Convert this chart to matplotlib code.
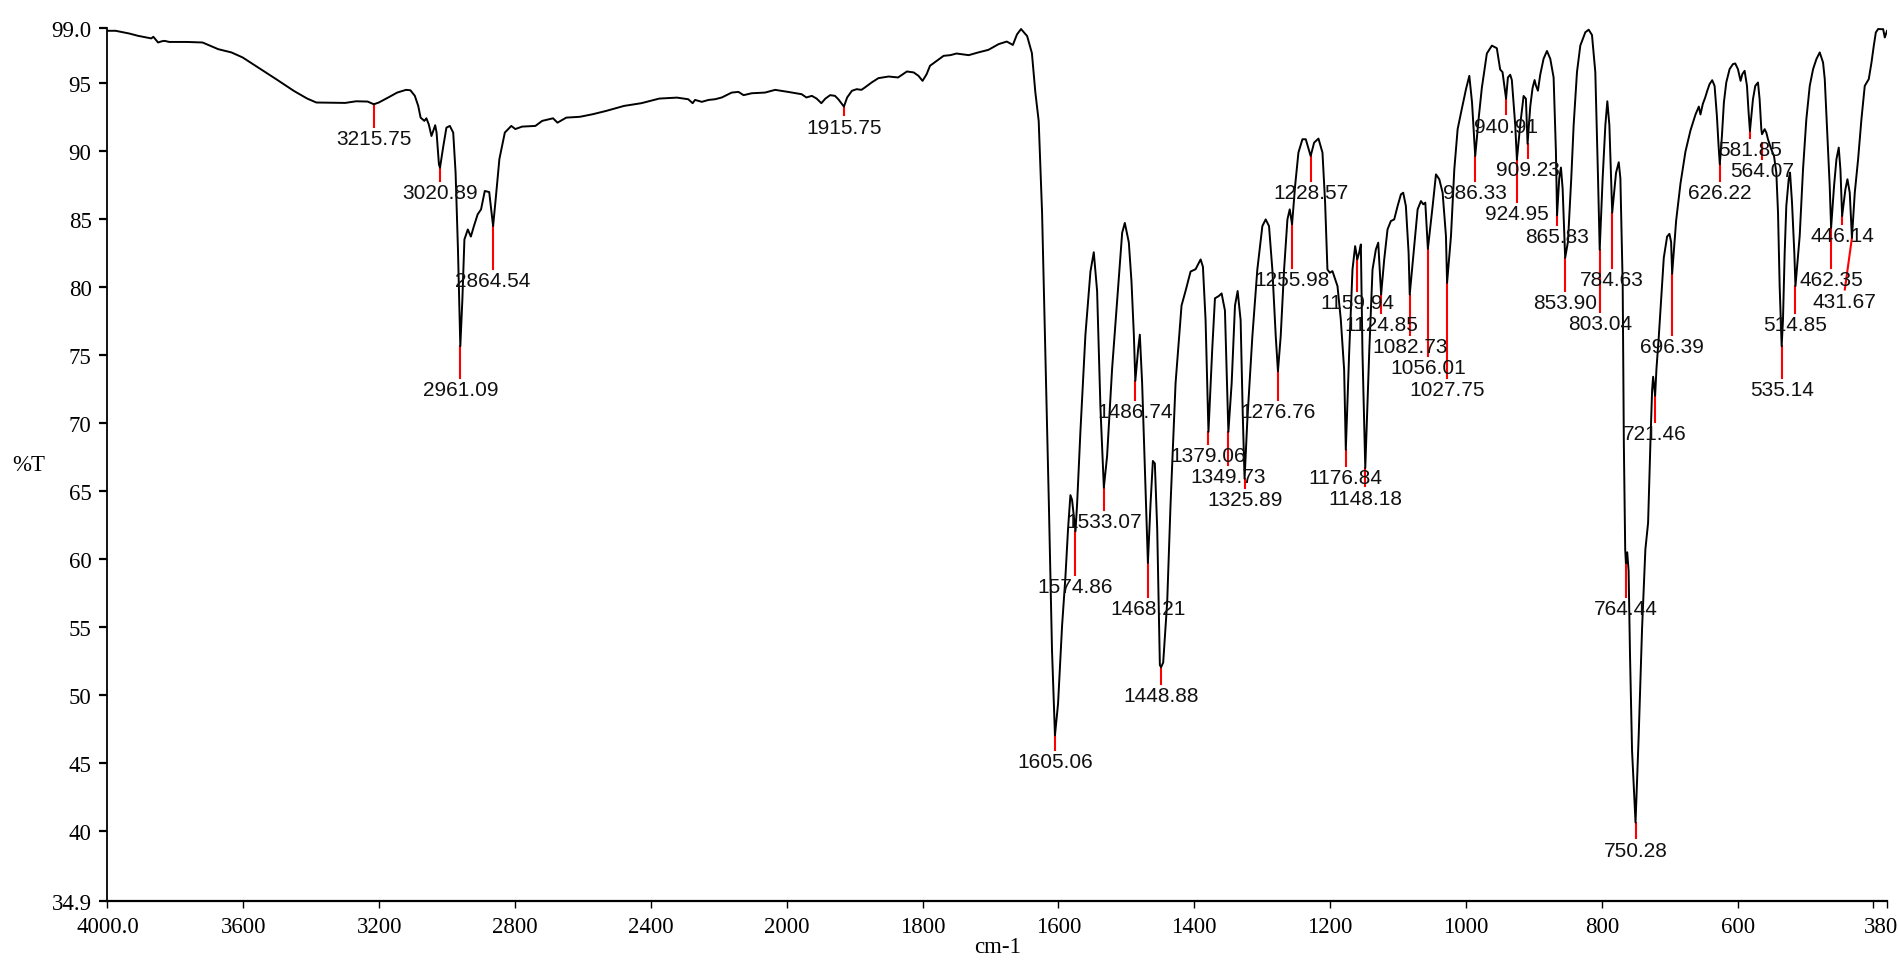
import numpy as np
import matplotlib
matplotlib.use("Agg")
import matplotlib.pyplot as plt
from matplotlib.transforms import ScaledTranslation

# --- spectrum (wavenumber cm-1, %T) ---
wavenumber = [
    4000, 3976, 3936, 3910, 3871, 3865, 3851, 3840, 3832, 3818, 3766, 3720,
    3674, 3635, 3602, 3556, 3503, 3451, 3412, 3385, 3300, 3268, 3234, 3215.75,
    3201, 3174, 3147, 3121, 3108, 3095, 3085, 3078, 3067, 3061, 3054, 3046,
    3035, 3031, 3024, 3020.89, 3011, 3002, 2992, 2982, 2975, 2968, 2961.09,
    2955, 2949, 2939, 2930, 2921, 2910, 2900, 2889, 2876, 2864.54, 2857, 2846,
    2830, 2811, 2799, 2779, 2740, 2720, 2688, 2675, 2649, 2609, 2571, 2532,
    2479, 2428, 2375, 2323, 2290, 2277, 2270, 2250, 2230, 2211, 2191, 2162,
    2142, 2127, 2103, 2064, 2034, 1998, 1978, 1971, 1963, 1956, 1949, 1943,
    1936, 1929, 1924, 1915.75, 1911, 1904, 1897, 1890, 1885, 1875, 1865, 1850,
    1836, 1831, 1823, 1813, 1806, 1800, 1794, 1789, 1779, 1769, 1759, 1750,
    1732, 1718, 1703, 1688, 1676, 1667, 1661, 1655, 1646, 1639, 1634, 1629,
    1624, 1619, 1614, 1609.4, 1605.06, 1600.5, 1594.6, 1589.7, 1585.8, 1582.3,
    1579.9, 1574.86, 1572.5, 1567.6, 1560.2, 1552.8, 1547.9, 1543, 1538.1,
    1533.07, 1528.3, 1520.9, 1513.5, 1506.1, 1502.2, 1496.3, 1492.4, 1488.9,
    1486.74, 1482.6, 1480.1, 1476.7, 1473.2, 1468.21, 1464.4, 1460.9, 1458,
    1454.5, 1450.6, 1448.88, 1445.7, 1439.8, 1434.9, 1427.5, 1418.7, 1412.8,
    1405.4, 1398, 1390.6, 1387.2, 1383.3, 1379.06, 1373.5, 1369.5, 1363.6,
    1359.7, 1354.8, 1349.73, 1344.9, 1340.0, 1336.1, 1331.7, 1328.5, 1325.89,
    1321.8, 1314.4, 1307.1, 1299.7, 1294.8, 1289.9, 1285, 1280, 1276.76,
    1272.7, 1267.7, 1262.8, 1259.4, 1255.98, 1251.5, 1246.6, 1240.7, 1235.8,
    1228.57, 1223.5, 1217.1, 1211.2, 1207.3, 1203.9, 1200.4, 1196.5, 1194,
    1189.1, 1184.2, 1179.3, 1176.84, 1171.9, 1167, 1163.1, 1159.94, 1157.2,
    1154.7, 1152.3, 1148.18, 1142.4, 1137.5, 1132.6, 1129.1, 1124.85, 1120.3,
    1115.4, 1110.5, 1105.6, 1100.6, 1095.7, 1092.3, 1088.4, 1084.4, 1082.73,
    1076.1, 1071.1, 1066.2, 1062.8, 1059.8, 1056.01, 1049.0, 1044.1, 1039.2,
    1034.3, 1029.4, 1027.75, 1022.0, 1017.1, 1012.2, 1007.2, 999.9, 995.0,
    991.0, 986.33, 981, 976.6, 969.2, 961.8, 954.5, 949.6, 946.1, 940.91,
    938.2, 934.8, 932.4, 927.4, 924.95, 920.1, 915.1, 911.7, 909.23, 905.3,
    901.9, 898.9, 897.0, 894.0, 890.6, 885.7, 880.7, 875.8, 870.9, 867.5,
    865.83, 862.6, 860.1, 857.6, 853.90, 849.8, 844.9, 841.4, 836.5, 831.6,
    824.2, 819.3, 814.4, 809.5, 805.5, 803.04, 798.7, 794.7, 791.8, 788.8,
    784.63, 779.0, 775.0, 772.6, 769.2, 767.5, 765.5, 764.44, 762.5, 760.5,
    758.4, 755.4, 752.8, 750.28, 745.6, 740.7, 735.8, 731.8, 728.4, 725.9,
    724.4, 721.46, 719.5, 716.1, 712.2, 708.7, 703.8, 700.4, 697.9, 696.39,
    690.5, 684.1, 676.8, 669.4, 662.0, 657.1, 654.7, 651.2, 647.7, 644.7,
    641.3, 637.4, 633.9, 630.5, 628.0, 626.22, 623.1, 620.2, 616.7, 611.8,
    606.9, 603.5, 599.5, 595.6, 593.1, 589.7, 586.2, 583.8, 581.85, 577.4,
    574.0, 570.0, 567.6, 565.1, 564.07, 560.2, 557.7, 555.3, 552.8, 550.4,
    546.4, 543.0, 540.5, 538.1, 535.14, 533.2, 530.7, 528.3, 524.8, 522.8,
    519.9, 516.5, 514.85, 508.6, 503.7, 498.8, 493.8, 488.9, 484.0, 479.1,
    474.2, 471.7, 467.8, 464.4, 462.35, 458.0, 454.5, 451.1, 448.6, 446.14,
    441.3, 438.3, 434.9, 431.67, 427.5, 422.6, 417.7, 412.8, 406.9, 402.9,
    399.5, 396.5, 393.1, 389.2, 385.7, 383.3, 380,
]
transmittance = [
    98.82, 98.82, 98.62, 98.45, 98.26, 98.38, 97.96, 98.05, 98.08, 98.0, 98.0, 97.96,
    97.47, 97.23, 96.86, 96.12, 95.26, 94.4, 93.84, 93.55, 93.52, 93.64, 93.62, 93.42,
    93.55, 93.91, 94.28, 94.48, 94.45, 94.04, 93.3, 92.44, 92.2, 92.39, 91.95, 91.09,
    91.88, 91.34, 89.0, 88.76, 90.36, 91.7, 91.83, 91.34, 88.4, 82.75, 75.64,
    79.07, 83.49, 84.22, 83.7, 84.47, 85.33, 85.7, 87.05, 86.97, 84.47, 86.43, 89.4,
    91.34, 91.83, 91.6, 91.78, 91.83, 92.2, 92.39, 92.07, 92.44, 92.5, 92.69, 92.93,
    93.3, 93.5, 93.84, 93.91, 93.79, 93.5, 93.74, 93.6, 93.74, 93.79, 93.92, 94.28,
    94.33, 94.09, 94.23, 94.28, 94.48, 94.33, 94.16, 93.92, 94.04, 93.84, 93.5, 93.84,
    94.09, 94.04, 93.79, 93.25, 93.92, 94.41, 94.53, 94.48, 94.65, 95.02, 95.34, 95.46,
    95.39, 95.56, 95.83, 95.76, 95.51, 95.14, 95.63, 96.25, 96.62, 96.98, 97.03, 97.15,
    97.03, 97.23, 97.42, 97.84, 98.03, 97.78, 98.55, 98.95, 98.43, 97.18, 94.33, 92.19,
    85.41, 74.7, 64.0, 53.3, 47.05, 49.37, 55.08, 58.65, 62.2, 64.7,
    64.36, 62.04, 64.0, 69.35, 76.49, 81.13, 82.55, 79.7, 71.14,
    65.25, 67.57, 74.0, 78.99, 83.98, 84.7, 83.27, 80.41, 76.49,
    73.1, 75.42, 76.49, 72.92, 67.57, 59.72, 64.0, 67.21, 67.03,
    62.22, 52.22, 52.05, 52.4, 56.86, 64.0, 72.92, 78.63, 79.7,
    81.13, 81.3, 82.02, 81.48, 77.56, 69.35, 75.42, 79.16, 79.34,
    79.52, 78.27, 69.35, 72.92, 78.63, 79.7, 77.56, 70.5, 65.9,
    70.24, 76.38, 81.28, 84.47, 84.96, 84.47, 81.28, 76.38, 73.8,
    76.38, 81.28, 84.96, 85.7, 84.6, 87.42, 89.87, 90.85, 90.85,
    89.62, 90.6, 90.9, 89.87, 86.19, 81.28, 81.04, 81.16, 80.79,
    80.06, 77.6, 73.92, 68.04, 75.15, 81.28, 83.0, 82.02, 82.51,
    83.12, 75.15, 66.69, 75.15, 81.28, 82.75, 83.25, 79.44, 82.02,
    84.23, 84.84, 84.96, 85.94, 86.8, 86.92, 85.94, 82.51, 79.44,
    83.0, 85.7, 86.31, 86.07, 86.19, 82.8, 85.94, 88.27, 87.91,
    86.92, 83.74, 80.3, 83.74, 88.64, 91.59, 92.81, 94.53, 95.51,
    93.55, 89.62, 92.5, 94.61, 97.15, 97.73, 97.54, 95.98, 95.78, 93.83,
    95.39, 95.59, 95.2, 91.89, 89.35, 91.89, 94.03, 93.83, 90.52, 93.25,
    94.61, 95.2, 94.81, 94.42, 95.59, 96.76, 97.34, 96.76, 95.39, 89.94,
    85.26, 87.99, 88.77, 87.21, 82.14, 83.31, 87.99, 91.89, 95.78, 97.73,
    98.71, 98.9, 98.51, 95.78, 87.99, 82.73, 87.99, 91.89, 93.64, 91.89,
    85.46, 88.38, 89.16, 87.99, 80.2, 68.5, 60.7, 59.7, 60.5, 59.15,
    52.9, 45.9, 43.2, 40.64, 47.07, 54.86, 60.71, 62.66, 68.5, 72.4,
    73.4, 72.0, 73.96, 76.3, 79.42, 82.14, 83.7, 83.9, 83.3, 80.97,
    84.87, 87.6, 89.94, 91.5, 92.67, 93.25, 92.67, 93.45, 93.92, 94.41,
    94.9, 95.19, 94.77, 92.57, 90.36, 89.01, 91.09, 93.55, 95.02, 96.0,
    96.37, 96.42, 96.0, 95.14, 95.63, 95.88, 94.77, 92.81, 91.46, 93.79,
    94.77, 95.02, 93.79, 91.59, 91.22, 91.59, 91.34, 90.85, 90.48, 90.11,
    89.62, 88.4, 85.45, 80.06, 75.64, 77.6, 82.51, 85.94, 87.91, 88.4,
    86.19, 82.51, 80.06, 83.74, 88.64, 92.32, 94.77, 96.0, 96.74, 97.23,
    96.49, 95.27, 91.09, 87.42, 84.35, 87.42, 89.38, 90.24, 88.6, 85.21,
    87.17, 87.91, 86.92, 83.61, 86.92, 89.38, 92.32, 94.77, 95.27, 96.49,
    97.72, 98.7, 98.95, 98.94, 98.94, 98.33, 98.82,
]

# --- labelled peaks ---
peak_wn = [3215.75, 3020.89, 2961.09, 2864.54, 1915.75, 1605.06, 1574.86,
           1533.07, 1486.74, 1468.21, 1448.88, 1379.06, 1349.73, 1325.89,
           1276.76, 1255.98, 1228.57, 1176.84, 1159.94, 1148.18, 1124.85,
           1082.73, 1056.01, 1027.75, 986.33, 940.91, 924.95, 909.23, 865.83,
           853.90, 803.04, 784.63, 764.44, 750.28, 721.46, 696.39, 626.22,
           581.85, 564.07, 535.14, 514.85, 462.35, 446.14, 431.67]
peak_T = [93.42, 88.76, 75.64, 84.47, 93.25, 47.05, 62.04, 65.25, 73.1, 59.72,
          52.05, 69.35, 69.35, 65.9, 73.8, 84.6, 89.62, 68.04, 82.02, 66.69,
          79.44, 79.44, 82.8, 80.3, 89.62, 93.83, 89.35, 90.52, 85.26, 82.14,
          82.73, 85.46, 59.7, 40.64, 72.0, 80.97, 89.01, 91.46, 90.55, 75.64,
          80.06, 84.35, 85.21, 83.61]
# lower end of each red marker (annotation layout)
marker_end_T = [91.78, 87.78, 73.31, 81.33, 92.6, 46.0, 58.83, 63.64, 71.67,
                57.22, 50.8, 68.46, 66.93, 65.25, 71.72, 81.4, 87.78, 66.86,
                79.69, 65.34, 78.09, 76.5, 74.9, 73.31, 87.78, 92.67, 86.24,
                89.47, 84.56, 79.73, 78.17, 81.36, 57.2, 39.47, 70.06, 76.5,
                87.78, 90.97, 89.38, 73.31, 78.09, 81.4, 84.6, 79.81]
marker_shift = {431.67: 10.5}   # slanted marker

x_ticks = [4000, 3600, 3200, 2800, 2400, 2000, 1800, 1600, 1400, 1200, 1000,
           800, 600, 400, 380]
x_tick_labels = ["4000.0", "3600", "3200", "2800", "2400", "2000", "1800",
                 "1600", "1400", "1200", "1000", "800", "600", "", "380"]
y_ticks = [34.9, 40, 45, 50, 55, 60, 65, 70, 75, 80, 85, 90, 95, 99.0]
y_tick_labels = ["34.9", "40", "45", "50", "55", "60", "65", "70", "75", "80",
                 "85", "90", "95", "99.0"]


# instrument style axis: 400 cm-1 per division above 2000, 200 below
def fwd(x):
    x = np.asarray(x, dtype=float)
    return np.where(x > 2000, 2000 + (x - 2000) / 2, x)


def inv(u):
    u = np.asarray(u, dtype=float)
    return np.where(u > 2000, 2000 + (u - 2000) * 2, u)


plt.rcParams["font.family"] = ["Liberation Serif", "DejaVu Serif"]

fig = plt.figure(figsize=(18.99, 9.62), dpi=100)
ax = fig.add_axes([0.0566, 0.0627, 0.9371, 0.9068])
ax.set_xscale("function", functions=(fwd, inv))
ax.set_xlim(4000, 380)
ax.set_ylim(34.9, 99.0)

ax.plot(wavenumber, transmittance, color="black", lw=1.4, zorder=3)

for wn, top, bot in zip(peak_wn, peak_T, marker_end_T):
    lx = wn + marker_shift.get(wn, 0)
    ax.plot([wn, lx], [top, bot], color="red", lw=1.5, zorder=2)
    ax.annotate(f"{wn:.2f}", (lx, bot), xytext=(0, -1.5),
                textcoords="offset points", ha="center", va="top",
                fontsize=15, family="Liberation Sans", color="#111111",
                zorder=4)

for side in ("top", "right"):
    ax.spines[side].set_visible(False)
ax.spines["left"].set_linewidth(1.3)
ax.spines["bottom"].set_linewidth(1.6)

ax.set_xticks(x_ticks)
ax.set_xticklabels(x_tick_labels)
ax.xaxis.set_minor_locator(matplotlib.ticker.NullLocator())
ax.set_yticks(y_ticks)
ax.set_yticklabels(y_tick_labels)
ax.tick_params(axis="x", direction="out", length=5, width=1.0, pad=6,
               labelsize=16.5)
ax.tick_params(axis="y", direction="out", length=5.5, width=1.6, pad=6,
               labelsize=16.5)
last = ax.get_xticklabels()[-1]
last.set_transform(last.get_transform() + ScaledTranslation(-6 / 100, 0, fig.dpi_scale_trans))

ax.set_xlabel("cm-1", fontsize=16.5)
ax.xaxis.set_label_coords(0.5, -0.053)
ax.xaxis.label.set_va("center")
ax.set_ylabel("%T", fontsize=16.5, rotation=0, va="center", ha="center")
ax.yaxis.set_label_coords(-0.044, 0.5)

fig.savefig("out.png", dpi=100)
